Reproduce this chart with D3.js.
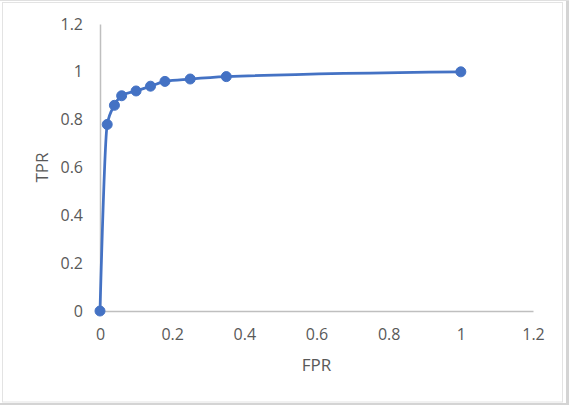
<!DOCTYPE html>
<html>
<head>
<meta charset="utf-8">
<script src="https://cdn.jsdelivr.net/npm/d3@7"></script>
<style>
  html, body { margin: 0; padding: 0; background: #fff; }
  svg { display: block; }
  text { font-family: "Open Sans", "Noto Sans", sans-serif; fill: #595959; }
</style>
</head>
<body>
<svg id="chart" width="569" height="405"></svg>
<script>
const fpr = [0, 0.02, 0.04, 0.06, 0.1, 0.14, 0.18, 0.25, 0.35, 1];
const tpr = [0, 0.78, 0.86, 0.9, 0.92, 0.94, 0.96, 0.97, 0.98, 1];
const xTicks = [0, 0.2, 0.4, 0.6, 0.8, 1, 1.2];
const yTicks = [0, 0.2, 0.4, 0.6, 0.8, 1, 1.2];
const xTitle = "FPR";
const yTitle = "TPR";

const svg = d3.select("#chart");
const W = 569, H = 405;

// outer frame
svg.append("rect").attr("x", 0).attr("y", 0).attr("width", W).attr("height", H).attr("fill", "#fff");
svg.append("rect").attr("x", 566).attr("y", 0).attr("width", 3).attr("height", H).attr("fill", "#d4d4d4");
svg.append("rect").attr("x", 0).attr("y", 403).attr("width", W).attr("height", 2).attr("fill", "#d4d4d4");
svg.append("rect").attr("x", 0).attr("y", 0).attr("width", W).attr("height", 1).attr("fill", "#e0e0e0");
svg.append("rect").attr("x", 2.5).attr("y", 2.5).attr("width", 560).attr("height", 399.5)
  .attr("fill", "none").attr("stroke", "#e3e3e3").attr("stroke-width", 1);

const x = d3.scaleLinear().domain([0, 1.2]).range([100, 533]);
const y = d3.scaleLinear().domain([0, 1.2]).range([311, 24]);
const fmt = d => String(+d.toFixed(1));

// x axis
const gx = svg.append("g").attr("transform", `translate(0,${y(0)})`)
  .call(d3.axisBottom(x).tickValues(xTicks).tickFormat(fmt).tickSize(0).tickPadding(18));
gx.select(".domain").attr("stroke", "#bfbfbf").attr("stroke-width", 1.5);
gx.selectAll("text").attr("font-size", 16).attr("fill", "#595959")
  .attr("font-family", "'Open Sans', sans-serif");

// y axis
const gy = svg.append("g").attr("transform", `translate(${x(0)},0)`)
  .call(d3.axisLeft(y).tickValues(yTicks).tickFormat(fmt).tickSize(0).tickPadding(17));
gy.select(".domain").attr("stroke", "#bfbfbf").attr("stroke-width", 1.5);
gy.selectAll("text").attr("font-size", 16).attr("fill", "#595959")
  .attr("font-family", "'Open Sans', sans-serif");

// axis titles
svg.append("text").attr("x", (x(0) + x(1.2)) / 2).attr("y", 371)
  .attr("text-anchor", "middle").attr("font-size", 17).text(xTitle);
svg.append("text").attr("transform", `translate(48,${(y(0) + y(1.2)) / 2}) rotate(-90)`)
  .attr("text-anchor", "middle").attr("font-size", 17).text(yTitle);

// series
const data = fpr.map((v, i) => ({ fx: v, ty: tpr[i] }));
const line = d3.line().x(d => x(d.fx)).y(d => y(d.ty)).curve(d3.curveMonotoneX);
svg.append("path").datum(data).attr("d", line)
  .attr("fill", "none").attr("stroke", "#4472C4").attr("stroke-width", 2.75)
  .attr("stroke-linejoin", "round");
svg.selectAll("circle.pt").data(data).enter().append("circle")
  .attr("class", "pt").attr("cx", d => x(d.fx)).attr("cy", d => y(d.ty)).attr("r", 5)
  .attr("fill", "#4472C4").attr("stroke", "#4472C4").attr("stroke-width", 1);
</script>
</body>
</html>
